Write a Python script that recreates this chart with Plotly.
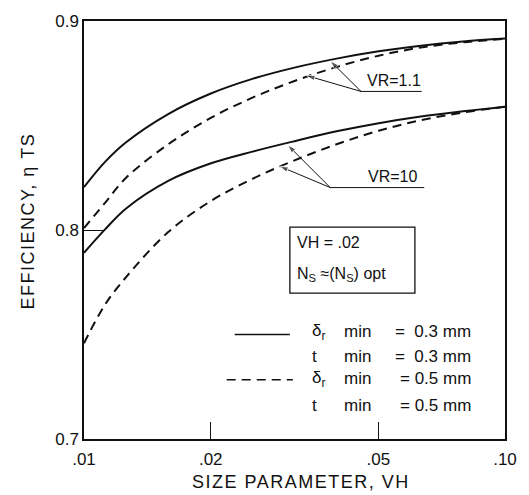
import plotly.graph_objects as go

# ---- data ----
vh = [0.01, 0.01122, 0.01259, 0.01585, 0.01995, 0.02512, 0.03162, 0.03981, 0.05012, 0.0631, 0.07943, 0.1]

eta_s11 = [0.8205, 0.8326, 0.8420, 0.8555, 0.8652, 0.8723, 0.8777, 0.8820, 0.8855, 0.8882, 0.8902, 0.8916]
eta_d11 = [0.8009, 0.8130, 0.8250, 0.8410, 0.8535, 0.8633, 0.8713, 0.8780, 0.8834, 0.8873, 0.8898, 0.8915]
eta_s10 = [0.7891, 0.8003, 0.8103, 0.8235, 0.8318, 0.8375, 0.8425, 0.8472, 0.8511, 0.8543, 0.8568, 0.8590]
eta_d10 = [0.7458, 0.7643, 0.7775, 0.7990, 0.8137, 0.8245, 0.8333, 0.8410, 0.8475, 0.8525, 0.8562, 0.8590]

x_tickvals = [0.01, 0.02, 0.05, 0.1]
x_ticktext = [".01", ".02", ".05", ".10"]
y_tickvals = [0.7, 0.8, 0.9]
y_ticktext = ["0.7", "0.8", "0.9"]

# label leaders (data coords): tail point, underline end, arrow heads
vr11_tail = (0.0455, 0.8663)
vr11_end = 0.0634
vr11_heads = [(0.03846, 0.8809), (0.03375, 0.8739)]
vr10_tail = (0.03846, 0.8203)
vr10_end = 0.0643
vr10_heads = [(0.03045, 0.8407), (0.02915, 0.8305)]

FONT = "Liberation Sans, Arial, sans-serif"
BLACK = "#111111"
DASH = "9px,6px"

fig = go.Figure()

def curve(x, y, dash):
    fig.add_trace(go.Scatter(x=x, y=y, mode="lines", line_shape="spline",
                             line=dict(color=BLACK, width=2, dash=dash, smoothing=1),
                             hoverinfo="skip", showlegend=False))

curve(vh, eta_s11, "solid")
curve(vh, eta_d11, DASH)
curve(vh, eta_s10, "solid")
curve(vh, eta_d10, DASH)

# underlines and arrow leaders of VR labels
for tail, end, heads in [(vr11_tail, vr11_end, vr11_heads), (vr10_tail, vr10_end, vr10_heads)]:
    fig.add_trace(go.Scatter(x=[tail[0], end], y=[tail[1], tail[1]], mode="lines",
                             line=dict(color=BLACK, width=1),
                             hoverinfo="skip", showlegend=False))
    for hx, hy in heads:
        fig.add_trace(go.Scatter(x=[tail[0], hx], y=[tail[1], hy], mode="lines+markers",
                                 line=dict(color=BLACK, width=1),
                                 marker=dict(symbol="arrow", size=[0, 9], color=BLACK,
                                             angleref="previous"),
                                 hoverinfo="skip", showlegend=False))

annotations = []

def txt(text, x, y, xanchor="left", yanchor="middle", size=16, angle=0):
    annotations.append(dict(text=text, x=x, y=y, xref="paper", yref="paper",
                            xanchor=xanchor, yanchor=yanchor, showarrow=False,
                            textangle=angle, font=dict(family=FONT, size=size, color=BLACK)))

txt("VR=1.1", 0.737, 0.857, "center")
txt("VR=10", 0.732, 0.627, "center")

txt("VH = .02", 0.502, 0.469)
txt("N<sub>S</sub> ≈(N<sub>S</sub>) opt", 0.502, 0.394)

rows = [("δ<sub>r</sub>", "=  0.3 mm", 0.257), ("t", "=  0.3 mm", 0.198),
        ("δ<sub>r</sub>", "= 0.5 mm", 0.144), ("t", "= 0.5 mm", 0.080)]
for sym, val, yy in rows:
    txt(sym, 0.536, yy, size=17)
    txt("min", 0.614, yy, size=17)
    txt(val, 0.925, yy, "right", size=17)

txt('<span style="letter-spacing:1.5px">SIZE PARAMETER, VH</span>', 0.516, -0.104, "center", size=18)
txt('<span style="letter-spacing:1.5px">EFFICIENCY, η TS</span>', -0.134, 0.522, "center", size=18, angle=-90)

shapes = [
    dict(type="rect", xref="paper", yref="paper", x0=0.489, x1=0.786, y0=0.349, y1=0.507,
         line=dict(color=BLACK, width=1.3)),
    dict(type="line", xref="paper", yref="paper", x0=0.358, x1=0.489, y0=0.25, y1=0.25,
         line=dict(color=BLACK, width=1.3)),
    dict(type="line", xref="paper", yref="paper", x0=0.339, x1=0.496, y0=0.1415, y1=0.1415,
         line=dict(color=BLACK, width=1.5, dash=DASH)),
]

fig.update_layout(
    width=529, height=495,
    margin=dict(l=84, r=21, t=15, b=56),
    paper_bgcolor="white", plot_bgcolor="white",
    font=dict(family=FONT, size=17, color=BLACK),
    annotations=annotations, shapes=shapes,
    xaxis=dict(type="log", range=[-2, -1], tickvals=x_tickvals, ticktext=x_ticktext,
               ticks="inside", ticklen=17, tickwidth=1.3, tickcolor=BLACK,
               showline=True, linecolor=BLACK, linewidth=1.5, mirror=True,
               showgrid=False, zeroline=False, ticklabelstandoff=4),
    yaxis=dict(range=[0.7, 0.9], tickvals=y_tickvals, ticktext=y_ticktext,
               ticks="inside", ticklen=20, tickwidth=1.3, tickcolor=BLACK,
               showline=True, linecolor=BLACK, linewidth=1.5, mirror=True,
               showgrid=False, zeroline=False),
)

fig.write_html("out.html")
